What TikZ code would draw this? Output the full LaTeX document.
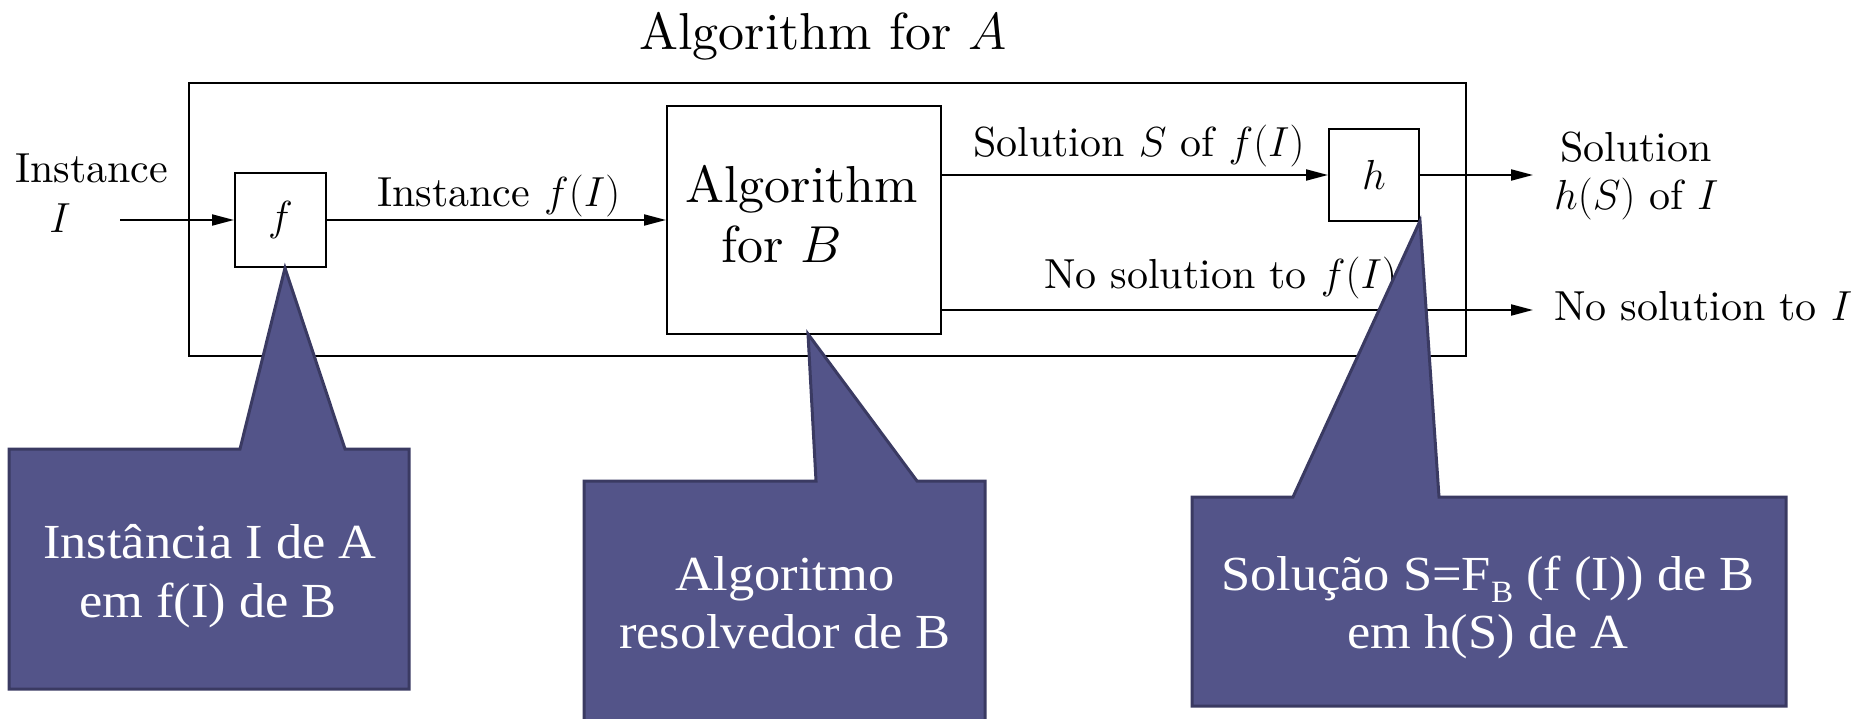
\RequirePackage{fix-cm}
\documentclass[tikz,border=0pt]{standalone}
\usepackage{fontspec}
\setmainfont{lmroman10-regular.otf}[ItalicFont=lmroman10-italic.otf, BoldFont=lmroman10-bold.otf]
\newfontfamily\callfont[FakeStretch=1.07]{Liberation Serif}
\usetikzlibrary{arrows.meta}
\definecolor{callfill}{RGB}{83,84,137}
\definecolor{calldraw}{RGB}{58,58,98}
\begin{document}
\begin{tikzpicture}[x=1pt,y=-1pt,
  box/.style={draw, line width=2pt, inner sep=0pt},
  lbl/.style={inner sep=0pt, font=\fontsize{42}{50}\selectfont},
  big/.style={inner sep=0pt, font=\fontsize{52}{60}\selectfont},
  conn/.style={line width=2pt, -{Triangle[length=22pt,width=11pt]}},
  callout/.style={fill=callfill, draw=calldraw, line width=3pt, line join=miter},
  calltext/.style={inner sep=0pt, text=white, anchor=base, font=\callfont\fontsize{49}{59}\selectfont}]
\useasboundingbox (0,0) rectangle (1854,719);

% boxes
\node[box, minimum width=1277pt, minimum height=273pt] (outer) at (827.5,219.5) {};
\node[box, minimum width=91pt, minimum height=94pt, font=\fontsize{42}{50}\selectfont] (f) at (280.5,220) {$f$};
\node[box, minimum width=274pt, minimum height=228pt] (algB) at (804,220) {};
\node[box, minimum width=90pt, minimum height=92pt, font=\fontsize{42}{50}\selectfont] (h) at (1374,175) {$h$};

% texts
\node[big, anchor=base west] (title) at (639,50) {Algorithm for $A$};
\node[lbl, anchor=base west] (inst) at (15,183) {Instance};
\node[lbl, anchor=base] (instI) at (60,233) {$I$};
\node[lbl, anchor=base west] (instf) at (377,207) {Instance $f(I)$};
\node[big, anchor=base west] (algB1) at (685,203) {Algorithm};
\node[big, anchor=base west] (algB2) at (721,262) {for $B$};
\node[lbl, anchor=base west] (solS) at (973,157) {Solution $S$ of $f(I)$};
\node[lbl, anchor=base west] (solh1) at (1560,162) {Solution};
\node[lbl, anchor=base west] (solh2) at (1554,210) {$h(S)$ of $I$};
\node[lbl, anchor=base west] (nosolf) at (1044,288) {No solution to $f(I)$};
\node[lbl, anchor=base west] (nosolI) at (1554,320) {No solution to $I$};

% connectors
\coordinate (in) at (120,220);
\coordinate (outS) at (1533,175);
\coordinate (algBup) at (941,175);
\coordinate (algBlow) at (941,310);
\coordinate (outN) at (1533,310);
\draw[conn] (in) -- (f.west);
\draw[conn] (f.east) -- (algB.west);
\draw[conn] (algBup) -- (h.west);
\draw[conn] (h.east) -- (outS);
\draw[conn] (algBlow) -- (outN);

% callouts
\draw[callout] (9,449) -- (240,449) -- (285,268) -- (345,449) -- (409,449) -- (409,689) -- (9,689) -- cycle;
\node[calltext] (c1a) at (210,558) {Instância I de A};
\node[calltext] (c1b) at (208,617) {em f(I) de B};

\draw[callout] (584,481) -- (816,481) -- (808,334) -- (917,481) -- (985,481) -- (985,735) -- (584,735) -- cycle;
\node[calltext] (c2a) at (785,590) {Algoritmo};
\node[calltext] (c2b) at (785,648) {resolvedor de B};

\draw[callout] (1192,497) -- (1293,497) -- (1420,221) -- (1439,497) -- (1786,497) -- (1786,706) -- (1192,706) -- cycle;
\node[calltext] (c3a) at (1488,590) {Solução S=F\raisebox{-0.25em}{\fontsize{31}{31}\selectfont B} (f (I)) de B};
\node[calltext] (c3b) at (1488,648) {em h(S) de A};
\end{tikzpicture}
\end{document}
